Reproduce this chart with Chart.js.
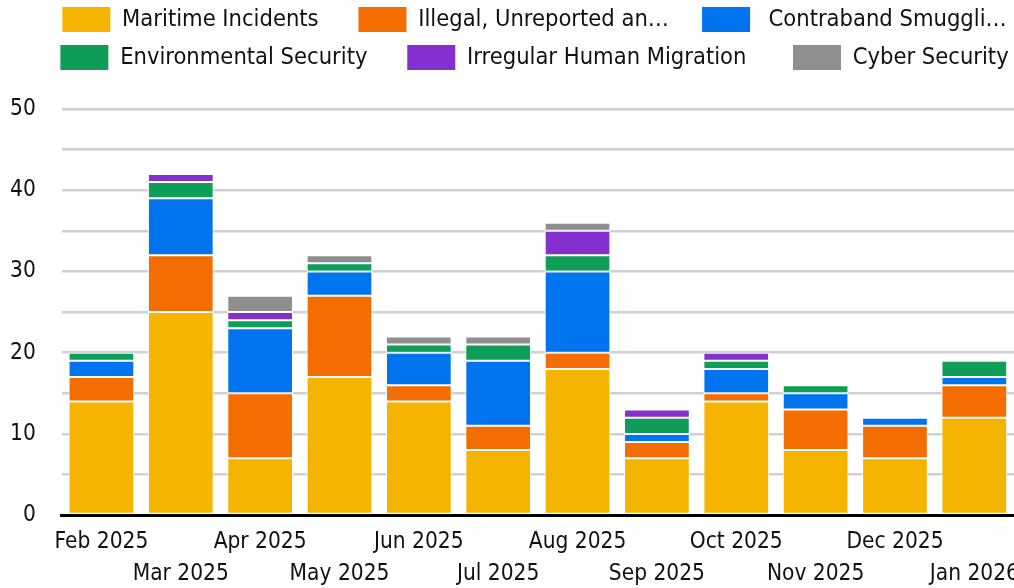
<!DOCTYPE html>
<html><head><meta charset="utf-8">
<script src="https://cdn.jsdelivr.net/npm/chart.js@4.4.1/dist/chart.umd.min.js"></script>
<style>html,body{margin:0;padding:0;background:#fff;}#wrap{width:1014px;height:588px;}</style>
</head><body><div id="wrap"><canvas id="c"></canvas></div>
<script>
const categories = ['Feb 2025','Mar 2025','Apr 2025','May 2025','Jun 2025','Jul 2025','Aug 2025','Sep 2025','Oct 2025','Nov 2025','Dec 2025','Jan 2026'];
const seriesNames = ['Maritime Incidents','Illegal, Unreported and Unregulated Fishing','Contraband Smuggling','Environmental Security','Irregular Human Migration','Cyber Security'];
const legendLabels = ['Maritime Incidents    ','Illegal, Unreported an…   ',' Contraband Smuggli… ','Environmental Security    ','Irregular Human Migration     ','Cyber Security '];
const maritime    = [14,25,7,17,14,8,18,7,14,8,7,12];
const illegal     = [3,7,8,10,2,3,2,2,1,5,4,4];
const contraband  = [2,7,8,3,4,8,10,1,3,2,1,1];
const environment = [1,2,1,1,1,2,2,2,1,1,0,2];
const migration   = [0,1,1,0,0,0,3,1,1,0,0,0];
const cyber       = [0,0,2,1,1,1,1,0,0,0,0,0];
const yMax = 50, yGridStep = 5, yLabelStep = 10;
const colors = ['#f4b400','#f46d00','#0073ee','#0f9d58','#8430ce','#8f8f8f'];
const FONT = '"DejaVu Sans Condensed", "DejaVu Sans", sans-serif';

const seriesValues = [maritime, illegal, contraband, environment, migration, cyber];
const datasets = seriesNames.map((n,i)=>({
  label: n, data: seriesValues[i], backgroundColor: colors[i],
  borderColor: '#ffffff', borderWidth: 1, borderSkipped: false,
  categoryPercentage: 0.9, barPercentage: 0.92
}));

const EXTRA = 40;
const legendSpacer = {
  id: 'legendSpacer',
  beforeLayout(chart) {
    const lg = chart.legend;
    if (lg && !lg._spaced) {
      const origFit = lg.fit;
      lg.fit = function() {
        const mw = this.maxWidth;
        this.maxWidth = mw + EXTRA;
        origFit.call(this);
        this.maxWidth = mw;
        this.width = Math.min(this.width, mw);
        this.height += 29;
      };
      const origDraw = lg.draw;
      lg.draw = function() {
        this.left -= EXTRA; this.right += EXTRA;
        origDraw.call(this);
        this.left += EXTRA; this.right -= EXTRA;
      };
      lg._spaced = true;
    }
  }
};

new Chart(document.getElementById('c'), {
  type: 'bar',
  data: { labels: categories, datasets },
  plugins: [legendSpacer],
  options: {
    responsive: true, maintainAspectRatio: false, animation: false,
    layout: { padding: { left: 10, right: 0, top: -6, bottom: 0 } },
    plugins: {
      tooltip: { enabled: false },
      legend: {
        position: 'top', fullSize: false, align: 'center',
        labels: {
          font: { family: FONT, size: 23.5 }, color: '#111',
          boxWidth: 48, boxHeight: 25, padding: 13,
          generateLabels: (chart) => Chart.defaults.plugins.legend.labels.generateLabels(chart).map((l,i)=>Object.assign(l,{text: legendLabels[i], lineWidth: 0, strokeStyle: 'transparent'}))
        }
      }
    },
    scales: {
      x: {
        stacked: true,
        grid: { display: false, drawTicks: false },
        border: { display: true, color: '#000', width: 3 },
        afterFit: (s) => { s.paddingRight = 0; s.paddingLeft = 0; s.height -= 13; },
        ticks: {
          autoSkip: false, maxRotation: 0, minRotation: 0, padding: 11,
          font: { family: FONT, size: 22.5, lineHeight: 1.42 }, color: '#111',
          callback: (v, i) => i % 2 === 0 ? [categories[i]] : ['', categories[i]]
        }
      },
      y: {
        stacked: true, min: 0, max: yMax,
        afterFit: (s) => { s.width -= 26; },
        ticks: {
          stepSize: yGridStep, padding: 26, font: { family: FONT, size: 22.5 }, color: '#111',
          callback: (v) => v % yLabelStep === 0 ? String(v) : ''
        },
        grid: { color: '#d0d0d0', lineWidth: 2.5, drawTicks: false },
        border: { display: false }
      }
    }
  }
});
</script></body></html>
